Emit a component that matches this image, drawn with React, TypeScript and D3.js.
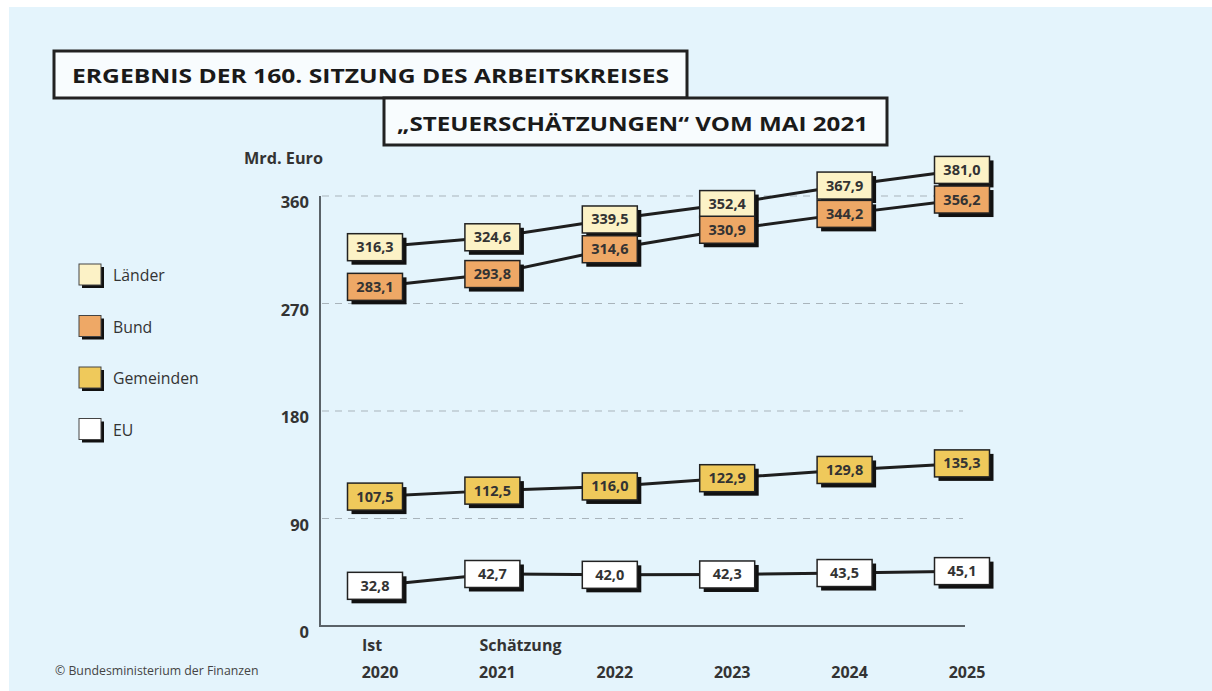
import React from "react";
import * as d3 from "d3";

const years = ["2020", "2021", "2022", "2023", "2024", "2025"];
const yearTopLabels = ["Ist", "Schätzung", "", "", "", ""];
const laender = [316.3, 324.6, 339.5, 352.4, 367.9, 381.0];
const bund = [283.1, 293.8, 314.6, 330.9, 344.2, 356.2];
const gemeinden = [107.5, 112.5, 116.0, 122.9, 129.8, 135.3];
const eu = [32.8, 42.7, 42.0, 42.3, 43.5, 45.1];
const yTicks = [0, 90, 180, 270, 360];
const seriesNames = ["Länder", "Bund", "Gemeinden", "EU"];
const seriesColors = ["#fcf2c6", "#eea866", "#efc95b", "#ffffff"];
const seriesValues = [laender, bund, gemeinden, eu];

const title1 = "ERGEBNIS DER 160. SITZUNG DES ARBEITSKREISES";
const title2 = "„STEUERSCHÄTZUNGEN“ VOM MAI 2021";
const unitLabel = "Mrd. Euro";
const copyright = "© Bundesministerium der Finanzen";

const FONT = "'Open Sans', 'Noto Sans', sans-serif";

export default function App() {
  const W = 1212;
  const H = 691;
  const x = d3.scalePoint<string>().domain(years).range([378, 965]);
  const y = d3.scaleLinear().domain([0, 360]).range([626, 196]);
  const line = d3
    .line<number>()
    .x((_, i) => (x(years[i]) as number) - 3)
    .y((d) => y(d) - 1);
  const fmt = (v: number) => v.toFixed(1).replace(".", ",");
  const bw = 55;
  const bh = 27;

  return (
    <svg
      width={W}
      height={H}
      style={{ position: "fixed", left: 0, top: 0, display: "block" }}
      fontFamily={FONT}
    >
      <rect x={0} y={0} width={W} height={H} fill="#ffffff" />
      <rect x={9} y={7} width={W - 9} height={H - 7} fill="#e4f4fc" />

      {/* Title boxes */}
      <rect x={54} y={51} width={633} height={47} fill="#f8fcfe" stroke="#222" strokeWidth={3} />
      <text x={72} y={83} fontSize={20} fontWeight={700} fill="#1a1a1a" textLength={597} lengthAdjust="spacingAndGlyphs">
        {title1}
      </text>
      <rect x={384} y={98} width={503} height={47} fill="#f8fcfe" stroke="#222" strokeWidth={3} />
      <text x={397} y={131} fontSize={20} fontWeight={700} fill="#1a1a1a" textLength={471} lengthAdjust="spacingAndGlyphs">
        {title2}
      </text>

      {/* Unit label */}
      <text x={244} y={164} fontSize={16} fontWeight={700} fill="#333" textLength={79} lengthAdjust="spacingAndGlyphs">
        {unitLabel}
      </text>

      {/* Gridlines */}
      {yTicks.filter((t) => t > 0).map((t) => (
        <line key={t} x1={322} x2={963} y1={y(t)} y2={y(t)} stroke="#a9b4bb" strokeWidth={1} strokeDasharray="7,6" />
      ))}

      {/* Axes */}
      <line x1={320} x2={320} y1={y(360)} y2={y(0)} stroke="#5a6268" strokeWidth={2} />
      <line x1={319} x2={965} y1={y(0)} y2={y(0)} stroke="#5a6268" strokeWidth={2} />

      {/* Y tick labels */}
      {yTicks.map((t) => (
        <text key={t} x={309} y={y(t) + 12} fontSize={16.5} fontWeight={700} fill="#333" textAnchor="end">
          {t}
        </text>
      ))}

      {/* X labels */}
      {years.map((yr, i) => {
        const cx = x(yr) as number;
        return (
          <g key={yr}>
            {yearTopLabels[i] && (
              <text x={cx - 16} y={651} fontSize={16} fontWeight={700} fill="#333">
                {yearTopLabels[i]}
              </text>
            )}
            <text x={cx + 2} y={678} fontSize={16} fontWeight={700} fill="#333" textAnchor="middle">
              {yr}
            </text>
          </g>
        );
      })}

      {/* Lines */}
      {seriesValues.map((vals, si) => (
        <path key={si} d={line(vals) || ""} fill="none" stroke="#1e1e1e" strokeWidth={3} />
      ))}

      {/* Value boxes */}
      {seriesValues.map((vals, si) =>
        vals.map((v, i) => {
          const cx = (x(years[i]) as number) - 3;
          const cy = y(v) - 1;
          return (
            <g key={`${si}-${i}`}>
              <rect x={cx - bw / 2 + 4} y={cy - bh / 2 + 4} width={bw} height={bh} fill="#111" />
              <rect x={cx - bw / 2} y={cy - bh / 2} width={bw} height={bh} fill={seriesColors[si]} stroke="#222" strokeWidth={1.5} />
              <text x={cx} y={cy + 5} fontSize={14.5} fontWeight={700} fill="#333" textAnchor="middle">
                {fmt(v)}
              </text>
            </g>
          );
        })
      )}

      {/* Legend */}
      {seriesNames.map((name, i) => {
        const cy = 275 + i * 51.5;
        return (
          <g key={name}>
            <rect x={82} y={cy - 8} width={22} height={21} fill="#111" />
            <rect x={79} y={cy - 11} width={22} height={21} fill={seriesColors[i]} stroke="#444" strokeWidth={1} />
            <text x={113} y={cy + 6} fontSize={15.8} fill="#333">
              {name}
            </text>
          </g>
        );
      })}

      {/* Copyright */}
      <text x={55} y={675} fontSize={12.3} fill="#444">
        {copyright}
      </text>
    </svg>
  );
}
